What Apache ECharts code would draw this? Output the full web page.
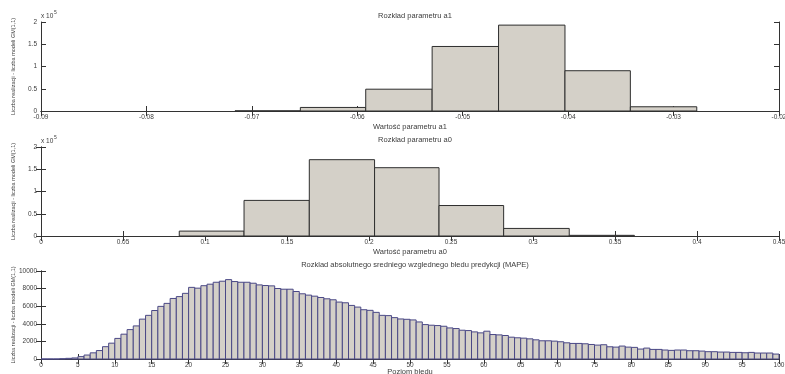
<!DOCTYPE html>
<html>
<head>
<meta charset="utf-8">
<script src="https://cdn.jsdelivr.net/npm/echarts@6/dist/echarts.min.js"></script>
<style>
  html, body { margin: 0; padding: 0; background: #fff; }
  #chart { width: 785px; height: 374px; }
</style>
</head>
<body>
<div id="chart"></div>
<script>
// histogram of parameter a1 (bin edges + counts)
const a1Edges = [-0.0716, -0.0654, -0.0592, -0.0529, -0.0466, -0.0403, -0.0341, -0.0278];
const a1Counts = [300, 8000, 49000, 145000, 193000, 90500, 9500];

// histogram of parameter a0
const a0Edges = [0.0843, 0.1238, 0.1636, 0.2034, 0.2427, 0.2821, 0.3221, 0.3618];
const a0Counts = [11000, 80000, 171500, 153500, 68500, 17000, 1500];

// MAPE histogram, 120 bins over 0..100
const mapeBinWidth = 100 / 120;
const mapeCounts = [
  0, 0, 0, 30, 75, 120, 270, 450, 700, 960,
  1400, 1800, 2340, 2820, 3340, 3760, 4530, 4960, 5510, 5980,
  6320, 6880, 7090, 7460, 8140, 8050, 8330, 8500, 8720, 8840,
  9020, 8800, 8720, 8720, 8610, 8420, 8350, 8310, 8010, 7930,
  7930, 7670, 7410, 7260, 7140, 6990, 6840, 6730, 6470, 6390,
  6090, 5900, 5600, 5530, 5300, 4960, 4930, 4700, 4550, 4510,
  4440, 4210, 3910, 3840, 3800, 3720, 3530, 3460, 3270, 3230,
  3080, 2970, 3160, 2780, 2740, 2670, 2480, 2410, 2370, 2290,
  2180, 2070, 2070, 2030, 1960, 1840, 1770, 1770, 1730, 1650,
  1580, 1620, 1390, 1350, 1470, 1350, 1320, 1130, 1240, 1090,
  1090, 1020, 980, 1020, 1020, 940, 940, 900, 830, 830,
  790, 790, 750, 750, 710, 750, 680, 680, 680, 560
];

const titles = [
  'Rozklad parametru a1',
  'Rozklad parametru a0',
  'Rozklad absolutnego sredniego wzglednego bledu predykcji (MAPE)'
];
const xNames = ['Wartość parametru a1', 'Wartość parametru a0', 'Poziom bledu'];
const yName = 'Liczba realizacji - liczba modeli GM(1,1)';

const barFill = '#d4d0c8';
const txt = '#3c3c3c';
const FONT = 'Liberation Sans, Arial, sans-serif';

function toBins(edges, counts) {
  let out = [];
  for (let i = 0; i < counts.length; i++) out.push([edges[i], edges[i + 1], counts[i]]);
  return out;
}
let mapeBins = [];
for (let i = 0; i < mapeCounts.length; i++) {
  mapeBins.push([i * mapeBinWidth, (i + 1) * mapeBinWidth, mapeCounts[i]]);
}

function histRender(edge) {
  return function (params, api) {
    let lo = api.coord([api.value(0), 0]);
    let hi = api.coord([api.value(1), api.value(2)]);
    return {
      type: 'rect',
      shape: { x: lo[0], y: hi[1], width: hi[0] - lo[0], height: lo[1] - hi[1] },
      style: { fill: barFill, stroke: edge, lineWidth: 1 }
    };
  };
}

const grids = [
  { left: 41, right: 6, top: 22, height: 89, containLabel: false, outerBoundsMode: 'none' },
  { left: 41, right: 6, top: 147, height: 89, containLabel: false, outerBoundsMode: 'none' },
  { left: 41, right: 6, top: 271, height: 88, containLabel: false, outerBoundsMode: 'none' }
];

const lineStyle = { color: '#333', width: 1 };
const tick = { show: true, inside: true, length: 5, lineStyle: { color: '#333' } };
const labelStyle = { color: txt, fontSize: 6.5, fontFamily: FONT };

function xAxisPair(gi, min, max, interval, name, fmt, gap) {
  return [{
    gridIndex: gi, type: 'value', min: min, max: max, interval: interval,
    axisLine: { lineStyle: lineStyle }, axisTick: tick, splitLine: { show: false },
    axisLabel: Object.assign({ margin: 3, showMinLabel: true, showMaxLabel: true, formatter: fmt }, labelStyle),
    name: name, nameLocation: 'middle', nameGap: gap, nameMoveOverlap: false,
    nameTextStyle: { color: txt, fontSize: 7.5, fontFamily: FONT }
  }, {
    gridIndex: gi, type: 'value', position: 'top', min: min, max: max, interval: interval,
    axisLine: { lineStyle: lineStyle }, axisTick: tick, axisLabel: { show: false }, splitLine: { show: false }
  }];
}
function yAxisPair(gi, max, interval, fmt) {
  return [{
    gridIndex: gi, type: 'value', min: 0, max: max, interval: interval,
    axisLine: { show: true, lineStyle: lineStyle }, axisTick: tick, splitLine: { show: false },
    axisLabel: Object.assign({ margin: 4, formatter: fmt }, labelStyle),
    name: yName, nameLocation: 'middle', nameGap: 25, nameRotate: 90, nameMoveOverlap: false,
    nameTextStyle: { color: txt, fontSize: 5.5, fontFamily: FONT }
  }, {
    gridIndex: gi, type: 'value', position: 'right', min: 0, max: max, interval: interval,
    axisLine: { show: true, lineStyle: lineStyle }, axisTick: tick, axisLabel: { show: false }, splitLine: { show: false }
  }];
}

const fmtDec = v => String(Math.round(v * 1000) / 1000);
const fmtE5 = v => String(v / 1e5);
const fmtInt = v => String(v);

const chart = echarts.init(document.getElementById('chart'));
chart.setOption({
  animation: false,
  backgroundColor: '#fff',
  title: titles.map((t, i) => ({
    text: t, left: 410, top: [7, 131, 256][i], textAlign: 'center',
    textStyle: { color: txt, fontSize: 7.5, fontWeight: 'normal', fontFamily: FONT }
  })),
  grid: grids,
  xAxis: [].concat(
    xAxisPair(0, -0.09, -0.02, 0.01, xNames[0], fmtDec, 12),
    xAxisPair(1, 0, 0.45, 0.05, xNames[1], fmtDec, 12),
    xAxisPair(2, 0, 100, 5, xNames[2], fmtInt, 9)
  ),
  yAxis: [].concat(
    yAxisPair(0, 200000, 50000, fmtE5),
    yAxisPair(1, 200000, 50000, fmtE5),
    yAxisPair(2, 10000, 2000, fmtInt)
  ),
  graphic: [
    { type: 'text', left: 41, top: 13, style: { text: 'x 10', fill: txt, fontSize: 6.5, fontFamily: FONT } },
    { type: 'text', left: 54, top: 10, style: { text: '5', fill: txt, fontSize: 5, fontFamily: FONT } },
    { type: 'text', left: 41, top: 138, style: { text: 'x 10', fill: txt, fontSize: 6.5, fontFamily: FONT } },
    { type: 'text', left: 54, top: 135, style: { text: '5', fill: txt, fontSize: 5, fontFamily: FONT } }
  ],
  series: [
    {
      type: 'custom', xAxisIndex: 0, yAxisIndex: 0, renderItem: histRender('#2e2e2e'),
      encode: { x: [0, 1], y: 2 }, data: toBins(a1Edges, a1Counts)
    },
    {
      type: 'custom', xAxisIndex: 2, yAxisIndex: 2, renderItem: histRender('#2e2e2e'),
      encode: { x: [0, 1], y: 2 }, data: toBins(a0Edges, a0Counts)
    },
    {
      type: 'custom', xAxisIndex: 4, yAxisIndex: 4, renderItem: histRender('#4a4886'),
      encode: { x: [0, 1], y: 2 }, data: mapeBins
    }
  ]
});
</script>
</body>
</html>
